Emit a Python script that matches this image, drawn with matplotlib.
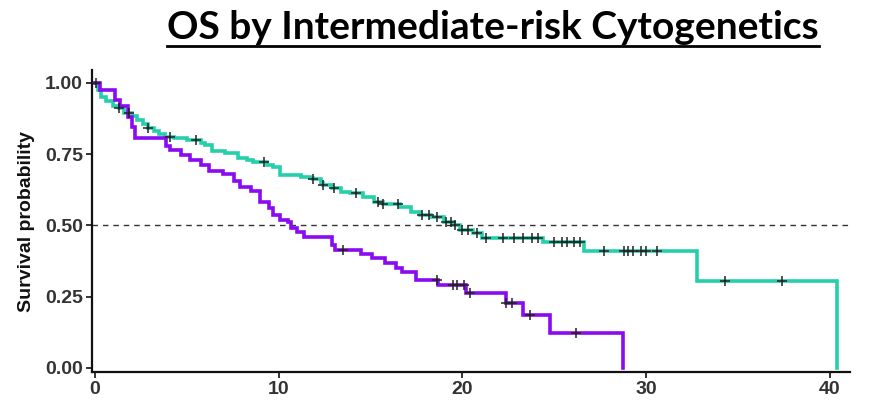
import numpy as np
import matplotlib
matplotlib.use("Agg")
import matplotlib.pyplot as plt
from matplotlib.lines import Line2D

# Kaplan-Meier step estimates (time in months, survival probability)
teal_times = [0.0, 0.2, 0.35, 0.6, 1.0, 1.3, 1.6, 2.0, 2.3, 2.6, 2.9, 3.2, 3.5, 3.8,
              4.3, 5.0, 5.76, 6.0, 6.4, 7.1, 7.8, 8.3, 8.6, 9.4, 9.7, 10.1, 11.2,
              11.7, 11.9, 12.3, 12.4, 12.9, 13.4, 13.9, 14.6, 15.2, 15.7, 16.6,
              17.2, 17.7, 18.3, 19.0, 19.5, 19.9, 20.6, 21.1, 24.4, 26.6, 32.75, 40.4]
teal_surv = [1.0, 0.975, 0.95, 0.935, 0.92, 0.91, 0.895, 0.885, 0.87, 0.855, 0.84, 0.83,
             0.82, 0.81, 0.805, 0.80, 0.79, 0.782, 0.76, 0.754, 0.737, 0.73, 0.722, 0.712,
             0.705, 0.677, 0.67, 0.667, 0.663, 0.65, 0.642, 0.632, 0.618, 0.614, 0.60,
             0.58, 0.575, 0.565, 0.547, 0.537, 0.53, 0.512, 0.50, 0.485, 0.474, 0.456,
             0.44, 0.41, 0.305, 0.0]
teal_censor = [0.05, 1.3, 1.85, 2.9, 4.1, 5.5, 9.2, 11.9, 12.4, 13.0, 14.2, 15.4, 15.7,
               16.5, 17.8, 18.2, 18.6, 19.1, 19.4, 19.6, 20.0, 20.3, 20.8, 21.3, 22.2,
               22.8, 23.3, 23.8, 24.1, 25.0, 25.4, 25.7, 26.1, 26.4, 27.7, 28.8, 29.0,
               29.3, 29.7, 30.0, 30.6, 34.3, 37.4]

purple_times = [0.0, 0.3, 1.1, 1.4, 1.8, 2.0, 2.2, 3.9, 4.1, 4.7, 5.2, 5.8, 6.2, 7.0,
                7.6, 7.9, 8.5, 9.0, 9.5, 9.7, 10.1, 10.5, 10.7, 11.0, 11.4, 12.9, 13.1,
                14.5, 15.1, 15.8, 16.4, 16.7, 17.5, 18.7, 20.2, 22.4, 23.3, 24.8, 28.75]
purple_surv = [1.0, 0.975, 0.94, 0.92, 0.88, 0.845, 0.805, 0.78, 0.765, 0.747, 0.73,
               0.712, 0.69, 0.68, 0.655, 0.635, 0.62, 0.58, 0.56, 0.535, 0.52, 0.51,
               0.49, 0.477, 0.46, 0.43, 0.414, 0.40, 0.385, 0.368, 0.35, 0.337, 0.308,
               0.29, 0.262, 0.228, 0.186, 0.123, 0.0]
purple_censor = [13.5, 18.6, 19.5, 19.7, 20.1, 20.4, 22.4, 22.7, 23.7, 26.2]

x_ticks = [0, 10, 20, 30, 40]
y_ticks = [0.00, 0.25, 0.50, 0.75, 1.00]
y_tick_labels = ["0.00", "0.25", "0.50", "0.75", "1.00"]

TEAL = "#26CFAB"
PURPLE = "#8A0BF0"
TEXT = "#333333"
TICK_FONT = "Liberation Sans"


def step_value(times, surv, t):
    idx = np.searchsorted(np.asarray(times), t, side="right") - 1
    return surv[max(idx, 0)]


fig = plt.figure(figsize=(8.71, 4.05), dpi=100)
ax = fig.add_axes([92 / 871, 1 - 372 / 405, (850 - 92) / 871, (372 - 70) / 405])

ax.axhline(0.5, color="#333333", lw=1.0, ls=(0, (4, 3.5)), zorder=1)

for times, surv, censor, color in [(teal_times, teal_surv, teal_censor, TEAL),
                                   (purple_times, purple_surv, purple_censor, PURPLE)]:
    ax.step(times, surv, where="post", color=color, lw=2.6, zorder=2,
            solid_joinstyle="miter")
    cy = [step_value(times, surv, t) for t in censor]
    ax.plot(censor, cy, ls="none", marker="+", ms=7, mew=1.1, color="#222222", zorder=3)

ax.set_xlim(-0.15, 41.1)
ax.set_ylim(-0.015, 1.045)
ax.set_xticks(x_ticks)
ax.set_xticklabels([str(v) for v in x_ticks])
ax.set_yticks(y_ticks)
ax.set_yticklabels(y_tick_labels)

for side in ("top", "right"):
    ax.spines[side].set_visible(False)
for side in ("left", "bottom"):
    ax.spines[side].set_linewidth(1.6)
    ax.spines[side].set_color("#111111")

ax.tick_params(axis="both", length=4, width=1.2, color="#111111", pad=2.5)
for lab in ax.get_xticklabels():
    lab.set_fontsize(14)
    lab.set_fontweight("bold")
    lab.set_family(TICK_FONT)
    lab.set_color(TEXT)
for lab in ax.get_yticklabels():
    lab.set_fontsize(14)
    lab.set_fontweight("bold")
    lab.set_family(TICK_FONT)
    lab.set_color(TEXT)

ax.set_ylabel("Survival probability", fontsize=14, fontweight="bold", color="#111111",
              family=TICK_FONT, labelpad=7)

title = fig.text(0.566, 1 - 39 / 405, "OS by Intermediate-risk Cytogenetics",
                 ha="center", va="baseline", fontsize=28, fontweight="bold",
                 family="Lato", color="black")

# underline under the title
fig.canvas.draw()
bb = title.get_window_extent(renderer=fig.canvas.get_renderer())
x0, x1 = bb.x0 / fig.bbox.width, bb.x1 / fig.bbox.width
uy = 1 - 46 / 405
fig.add_artist(Line2D([x0, x1], [uy, uy], transform=fig.transFigure,
                      color="black", lw=2.0))

fig.savefig("out.png", dpi=100)
